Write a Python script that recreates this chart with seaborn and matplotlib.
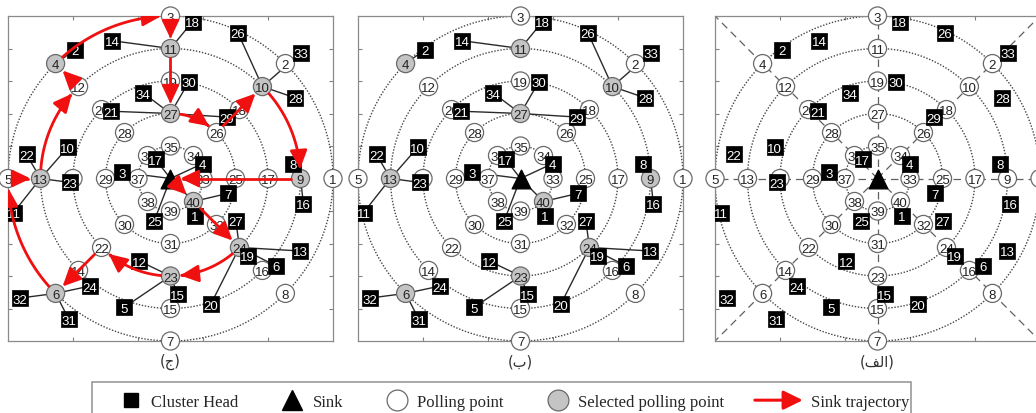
import matplotlib

matplotlib.use("Agg")

import matplotlib.pyplot as plt
import numpy as np
import pandas as pd
import seaborn as sns
from matplotlib.legend_handler import HandlerBase
from matplotlib.lines import Line2D
from matplotlib.patches import FancyArrowPatch, Rectangle
from matplotlib.path import Path

# polling points 1..40: ring (radius) and ray angle in degrees
poll_ring = [5, 5, 5, 5, 5, 5, 5, 5,
             4, 4, 4, 4, 4, 4, 4, 4,
             3, 3, 3, 3, 3, 3, 3, 3,
             2, 2, 2, 2, 2, 2, 2, 2,
             1, 1, 1, 1, 1, 1, 1, 1]
poll_angle = [0, 45, 90, 135, 180, 225, 270, 315] * 5
ring_radii = [1, 2, 3, 4, 5]
ray_angles = [0, 45, 90, 135, 180, 225, 270, 315]

# cluster heads
ch_ids = [1, 2, 3, 4, 5, 6, 7, 8, 10, 11, 12, 13, 14, 15, 16, 17, 18,
          19, 20, 21, 22, 23, 24, 25, 26, 27, 28, 29, 30, 31, 32, 33, 34]
ch_x = [0.74, -2.94, -1.49, 0.99, -1.42, 3.25, 1.76, 3.78, -3.16, -4.83, -0.96,
        3.99, -1.80, 0.22, 4.09, -0.46, 0.68, 2.38, 1.24, -1.83, -4.43, -3.10,
        -2.48, -0.50, 2.07, 2.01, 3.84, 1.73, 0.56, -3.13, -4.64, 4.02, -0.84]
ch_y = [-1.14, 3.96, 0.19, 0.46, -3.96, -2.69, -0.46, 0.46, 0.96, -1.05, -2.54,
        -2.23, 4.24, -3.56, -0.78, 0.59, 4.83, -2.38, -3.87, 2.07, 0.74, -0.12,
        -3.31, -1.30, 4.49, -1.30, 2.48, 1.89, 2.97, -4.33, -3.68, 3.87, 2.63]

selected_points = [4, 6, 9, 10, 11, 13, 23, 24, 27, 40]

# cluster head -> polling point it reports to (0 = sink)
ch_links = [(14, 11), (18, 11), (2, 4), (26, 10), (33, 10), (28, 10),
            (34, 27), (30, 27), (21, 27), (29, 27),
            (22, 13), (10, 13), (23, 13), (11, 13),
            (8, 9), (16, 9), (3, 0), (17, 0), (4, 0), (25, 0),
            (7, 40), (1, 40),
            (27, 24), (13, 24), (19, 24), (6, 24), (20, 24),
            (12, 23), (15, 23), (5, 23),
            (32, 6), (24, 6), (31, 6)]
point_links = [(0, 40)]

# sink tour over polling points (0 = sink)
trajectory = [0, 40, 24, 23, 22, 6, 5, 13, 12, 4, 3, 11, 27, 26, 10, 9, 0]

# Arabic captions (visual order, presentation forms)
panel_labels = ["(\u062C)", "(\u0628)", "(\uFED2\uFEDF\uFE8D)"]

legend_labels = ["Cluster Head", "Sink", "Polling point",
                 "Selected polling point", "Sink trajectory"]

sns.set_style("white")
plt.rcParams["font.family"] = ["Liberation Sans", "DejaVu Sans"]

RED = "#f01010"
EDGE = "#6a6a6a"


def point_xy(pid):
    if pid == 0:
        return np.array([0.0, 0.0])
    r = poll_ring[pid - 1]
    t = np.deg2rad(poll_angle[pid - 1])
    return np.array([r * np.cos(t), r * np.sin(t)])


ch_pos = {c: np.array([x, y]) for c, x, y in zip(ch_ids, ch_x, ch_y)}

points = pd.DataFrame({
    "pid": range(1, len(poll_ring) + 1),
    "x": [point_xy(p)[0] for p in range(1, len(poll_ring) + 1)],
    "y": [point_xy(p)[1] for p in range(1, len(poll_ring) + 1)],
})
heads = pd.DataFrame({"cid": ch_ids, "x": ch_x, "y": ch_y})


def leg_verts(a, b, gap=0.3):
    if a and b and poll_ring[a - 1] == poll_ring[b - 1]:
        r = poll_ring[a - 1]
        ta, tb = np.deg2rad(poll_angle[a - 1]), np.deg2rad(poll_angle[b - 1])
        d = (tb - ta + np.pi) % (2 * np.pi) - np.pi
        s = np.sign(d)
        t = np.linspace(ta + s * gap / r, ta + d - s * gap / r, 40)
        return np.column_stack([r * np.cos(t), r * np.sin(t)])
    pa, pb = point_xy(a), point_xy(b)
    u = (pb - pa) / np.linalg.norm(pb - pa)
    return np.array([pa + u * gap, pb - u * gap])


def draw_panel(ax, mode):
    ax.set_xlim(-5, 5)
    ax.set_ylim(-5, 5)
    ax.set_aspect("equal", adjustable="box")
    ax.set_xticks([-3, -1, 1, 3])
    ax.set_yticks([-4, -3, -2, -1, 0, 1, 2, 3, 4])
    ax.tick_params(direction="in", length=3, color="#808080",
                   labelbottom=False, labelleft=False,
                   top=True, right=True, bottom=True, left=True)
    for sp in ax.spines.values():
        sp.set_color("#8a8a8a")
        sp.set_linewidth(0.9)

    tt = np.linspace(0, 2 * np.pi, 400)
    for r in ring_radii:
        ax.plot(r * np.cos(tt), r * np.sin(tt), color="#454545",
                lw=1.0, ls=(0, (1, 1.2)), zorder=1)

    if mode == "plain":
        for a in ray_angles:
            t = np.deg2rad(a)
            reach = 5 / max(abs(np.cos(t)), abs(np.sin(t)))
            ax.plot([0, reach * np.cos(t)], [0, reach * np.sin(t)],
                    color="#606060", lw=0.9, ls=(0, (6, 4)), zorder=1)
        state = ["normal"] * len(points)
    else:
        for c, p in ch_links:
            a, b = ch_pos[c], point_xy(p)
            ax.plot([a[0], b[0]], [a[1], b[1]], color="#2a2a2a", lw=1.0, zorder=2)
        for p, q in point_links:
            a, b = point_xy(p), point_xy(q)
            ax.plot([a[0], b[0]], [a[1], b[1]], color="#2a2a2a", lw=1.0, zorder=2)
        state = ["selected" if p in selected_points else "normal"
                 for p in points["pid"]]

    df = points.assign(state=state)
    sns.scatterplot(data=df, x="x", y="y", hue="state",
                    palette={"normal": "white", "selected": "#c4c4c4"},
                    s=170, edgecolor=EDGE, linewidth=0.9, legend=False,
                    ax=ax, zorder=3, clip_on=False)
    for _, row in df.iterrows():
        ax.text(row.x, row.y, str(row.pid), ha="center", va="center_baseline",
                fontsize=9.5, color="#222222", zorder=4, clip_on=False)

    sns.scatterplot(data=heads, x="x", y="y", marker="s", color="black",
                    s=120, edgecolor="black", linewidth=0.5, legend=False,
                    ax=ax, zorder=5)
    for _, row in heads.iterrows():
        ax.text(row.x, row.y, str(int(row.cid)), ha="center",
                va="center_baseline", fontsize=9.5, color="white", zorder=6)

    ax.scatter([0], [0], marker="^", s=180, color="black", zorder=5)

    if mode == "trajectory":
        for a, b in zip(trajectory[:-1], trajectory[1:]):
            arr = FancyArrowPatch(
                path=Path(leg_verts(a, b)),
                arrowstyle="-|>,head_length=0.55,head_width=0.26",
                mutation_scale=20, color=RED, lw=2.0, zorder=8)
            ax.add_patch(arr)

    ax.set_xlabel("")
    ax.set_ylabel("")


fig = plt.figure(figsize=(10.36, 4.14), dpi=100)
W, H = 1036, 414
lefts = [8, 358, 715]
modes = ["trajectory", "selected", "plain"]
for left, mode, lab in zip(lefts, modes, panel_labels):
    ax = fig.add_axes([left / W, (H - 342) / H, 325 / W, 325 / H])
    draw_panel(ax, mode)
    ax.text(0.5, -0.062, lab, transform=ax.transAxes, ha="center",
            va="center", fontsize=10.5, family=["DejaVu Sans"], color="#333333")


class ArrowHandler(HandlerBase):
    def create_artists(self, legend, orig_handle, xdescent, ydescent,
                       width, height, fontsize, trans):
        y = height / 2 - ydescent
        arr = FancyArrowPatch((-xdescent - 19, y), (width - xdescent + 1.5, y),
                              arrowstyle="-|>,head_length=0.65,head_width=0.32",
                              mutation_scale=18, color=RED, lw=2.2,
                              transform=trans)
        return [arr]


traj_handle = Line2D([], [], color=RED)
handles = [
    Line2D([], [], marker="s", ls="none", mfc="black", mec="black", markersize=10),
    Line2D([], [], marker="^", ls="none", mfc="black", mec="black", markersize=15),
    Line2D([], [], marker="o", ls="none", mfc="white", mec=EDGE, mew=0.9, markersize=15),
    Line2D([], [], marker="o", ls="none", mfc="#c4c4c4", mec=EDGE, mew=0.9, markersize=15),
]
leg_kw = dict(loc="center left", frameon=False,
              prop={"family": "Liberation Serif", "size": 12},
              handlelength=1.5, handletextpad=0.45, columnspacing=2.5,
              borderpad=0, borderaxespad=0)
fig.legend(handles, legend_labels[:4], ncol=4,
           bbox_to_anchor=(118.5 / W, (H - 403) / H), **leg_kw)
fig.legend([traj_handle], legend_labels[4:], ncol=1,
           bbox_to_anchor=(778.5 / W, (H - 403) / H),
           handler_map={traj_handle: ArrowHandler()}, **leg_kw)
fig.patches.append(Rectangle((92 / W, -0.05), (911 - 92) / W, (H - 383) / H + 0.05,
                             transform=fig.transFigure, fill=False,
                             edgecolor="#9a9a9a", lw=1.2))

fig.savefig("out.png", dpi=100)
